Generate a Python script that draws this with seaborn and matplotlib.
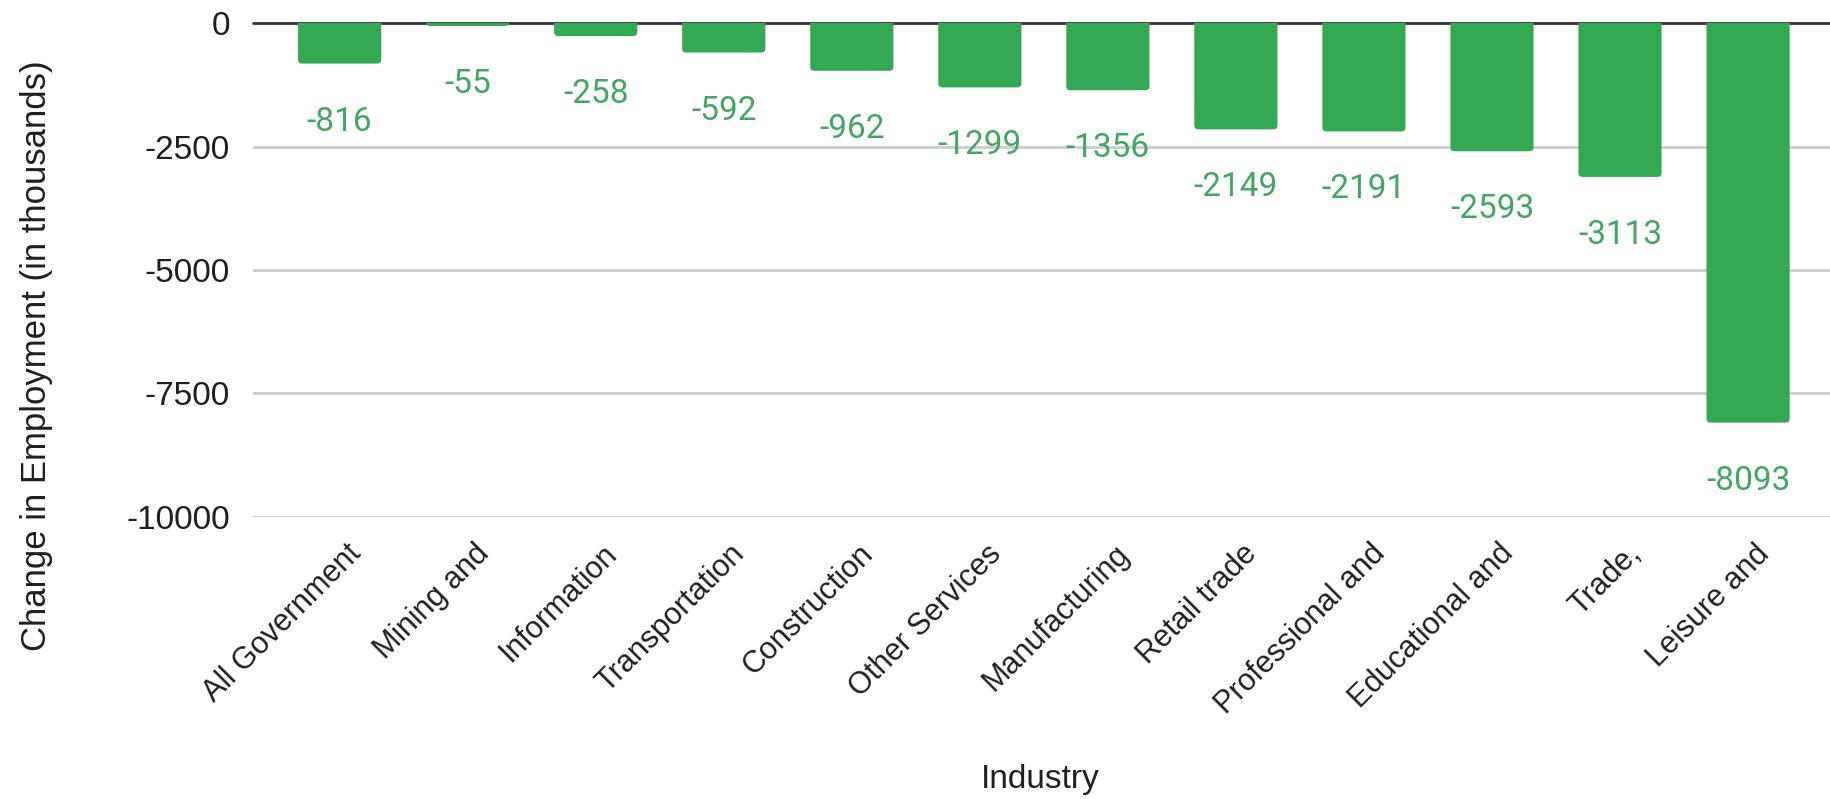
import matplotlib
matplotlib.use("Agg")
import matplotlib.pyplot as plt
import matplotlib.transforms as mtransforms
from matplotlib.patches import FancyBboxPatch
import seaborn as sns
import pandas as pd

industries = ["All Government", "Mining and", "Information", "Transportation",
              "Construction", "Other Services", "Manufacturing", "Retail trade",
              "Professional and", "Educational and", "Trade,", "Leisure and"]
change = [-816, -55, -258, -592, -962, -1299, -1356, -2149, -2191, -2593, -3113, -8093]
y_ticks = [0, -2500, -5000, -7500, -10000]

bar_color = "#34a853"
label_color = "#43a85f"
text_color = "#1f1f1f"

sns.set_theme(style="white")
plt.rcParams["font.family"] = ["Liberation Sans", "DejaVu Sans"]

df = pd.DataFrame({"Industry": industries, "Change": change})

fig = plt.figure(figsize=(18.3, 7.99), dpi=100)
ax = fig.add_axes([0.1383, 0.3533, 0.8617, 0.6175])

sns.barplot(data=df, x="Industry", y="Change", color=bar_color, saturation=1,
            width=0.65, ax=ax, zorder=3)

ax.set_ylim(-10000, 0)
ax.set_xlim(-0.676, 11.64)

# give the bars slightly rounded ends (the part above zero is clipped away)
overhang = 200
for bar in list(ax.patches):
    x0, w = bar.get_x(), bar.get_width()
    y0, h = bar.get_y(), bar.get_height()
    bottom = min(y0, y0 + h)
    rounded = FancyBboxPatch((x0, bottom), w, abs(h) + overhang,
                             boxstyle="round,pad=0,rounding_size=0.032",
                             mutation_aspect=2600, facecolor=bar_color,
                             edgecolor="none", zorder=3)
    bar.set_visible(False)
    ax.add_patch(rounded)

ax.set_yticks(y_ticks)
ax.set_yticklabels([str(v) for v in y_ticks])
for v in y_ticks[1:]:
    ax.axhline(v, color="#cccccc", lw=2, zorder=1)
ax.axhline(0, color="#333333", lw=2, zorder=2, clip_on=False)

for s in ax.spines.values():
    s.set_visible(False)
ax.tick_params(axis="both", length=0, colors=text_color)
ax.tick_params(axis="y", labelsize=24, pad=16.5)
ax.tick_params(axis="x", labelsize=22, pad=0)

# value labels below each bar
for i, v in enumerate(change):
    ax.annotate(str(v), xy=(i, v), xytext=(0, -58), textcoords="offset pixels",
                ha="center", va="center", color=label_color, fontsize=24,
                family=["Roboto", "DejaVu Sans"], zorder=4)

# rotated category labels
offset = mtransforms.ScaledTranslation(0.06, -0.22, fig.dpi_scale_trans)
for lab in ax.get_xticklabels():
    lab.set_rotation(45)
    lab.set_ha("right")
    lab.set_va("top")
    lab.set_rotation_mode("anchor")
    lab.set_transform(lab.get_transform() + offset)

ax.set_xlabel("Industry", fontsize=24, color=text_color)
ax.set_ylabel("Change in Employment (in thousands)", fontsize=25, color=text_color)
ax.xaxis.set_label_coords(0.499, -0.502)
ax.yaxis.set_label_coords(-0.127, 0.326)

fig.savefig("out.png", dpi=100, facecolor="white")
